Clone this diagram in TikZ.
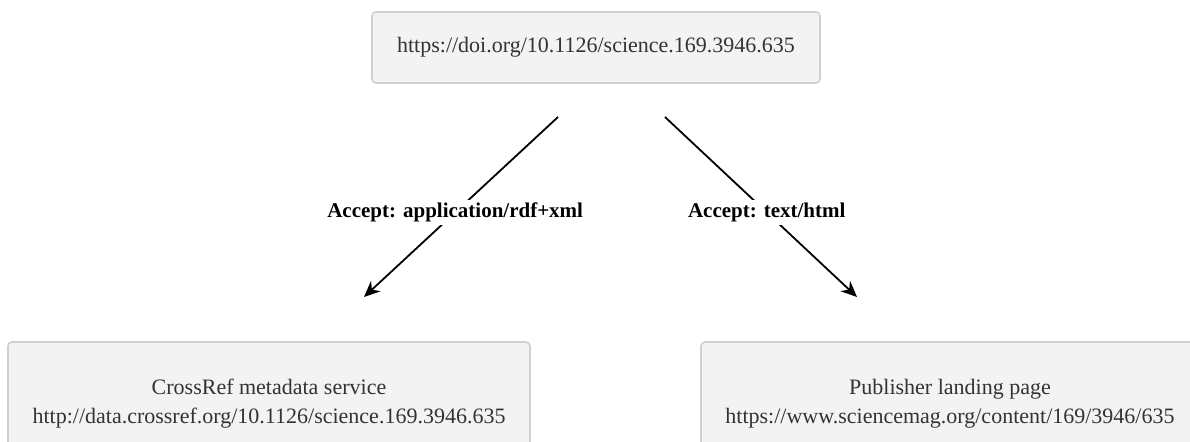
\documentclass[tikz,border=0pt]{standalone}
\usepackage{fontspec}
\setmainfont{Liberation Serif}
\usepackage{xcolor}
\usetikzlibrary{arrows.meta}

\definecolor{boxfill}{HTML}{F3F3F3}
\definecolor{boxline}{HTML}{D0D0D0}
\definecolor{boxtext}{HTML}{333333}

\tikzset{
    urlbox/.style={draw=boxline, fill=boxfill, rounded corners=2pt, line width=0.8pt,
        text=boxtext, align=center, font=\fontsize{11}{14.5}\selectfont, inner sep=0pt},
    accept/.style={fill=white, font=\fontsize{10.5}{12}\bfseries, inner sep=1.5pt},
    negot/.style={line width=0.9pt, -{Stealth[length=8pt,width=7pt]}}
}

\begin{document}
\begin{tikzpicture}[x=0.5pt,y=-0.5pt]
    \clip (0, 0) rectangle (1190, 441);

    \coordinate (S1) at (558, 117);
    \coordinate (S2) at (665, 117);
    \coordinate (T1) at (364, 297);
    \coordinate (T2) at (857, 297);

%boxes
    \node (doi) at (596, 47.5) [urlbox, minimum width=224pt, minimum height=35.5pt]
        {https://doi.org/10.1126/science.169.3946.635};
    \node (crossref) at (269, 404) [urlbox, minimum width=261pt, minimum height=62pt]
        {CrossRef metadata service\\http://data.crossref.org/10.1126/science.169.3946.635};
    \node (publisher) at (950, 404) [urlbox, minimum width=249pt, minimum height=62pt]
        {Publisher landing page\\https://www.sciencemag.org/content/169/3946/635};

%arrows
    \draw[negot] (S1) -- node[accept, pos=0.53] (rdf) {Accept: application/rdf+xml} (T1);
    \draw[negot] (S2) -- node[accept, pos=0.53] (html) {Accept: text/html} (T2);

\end{tikzpicture}
\end{document}
